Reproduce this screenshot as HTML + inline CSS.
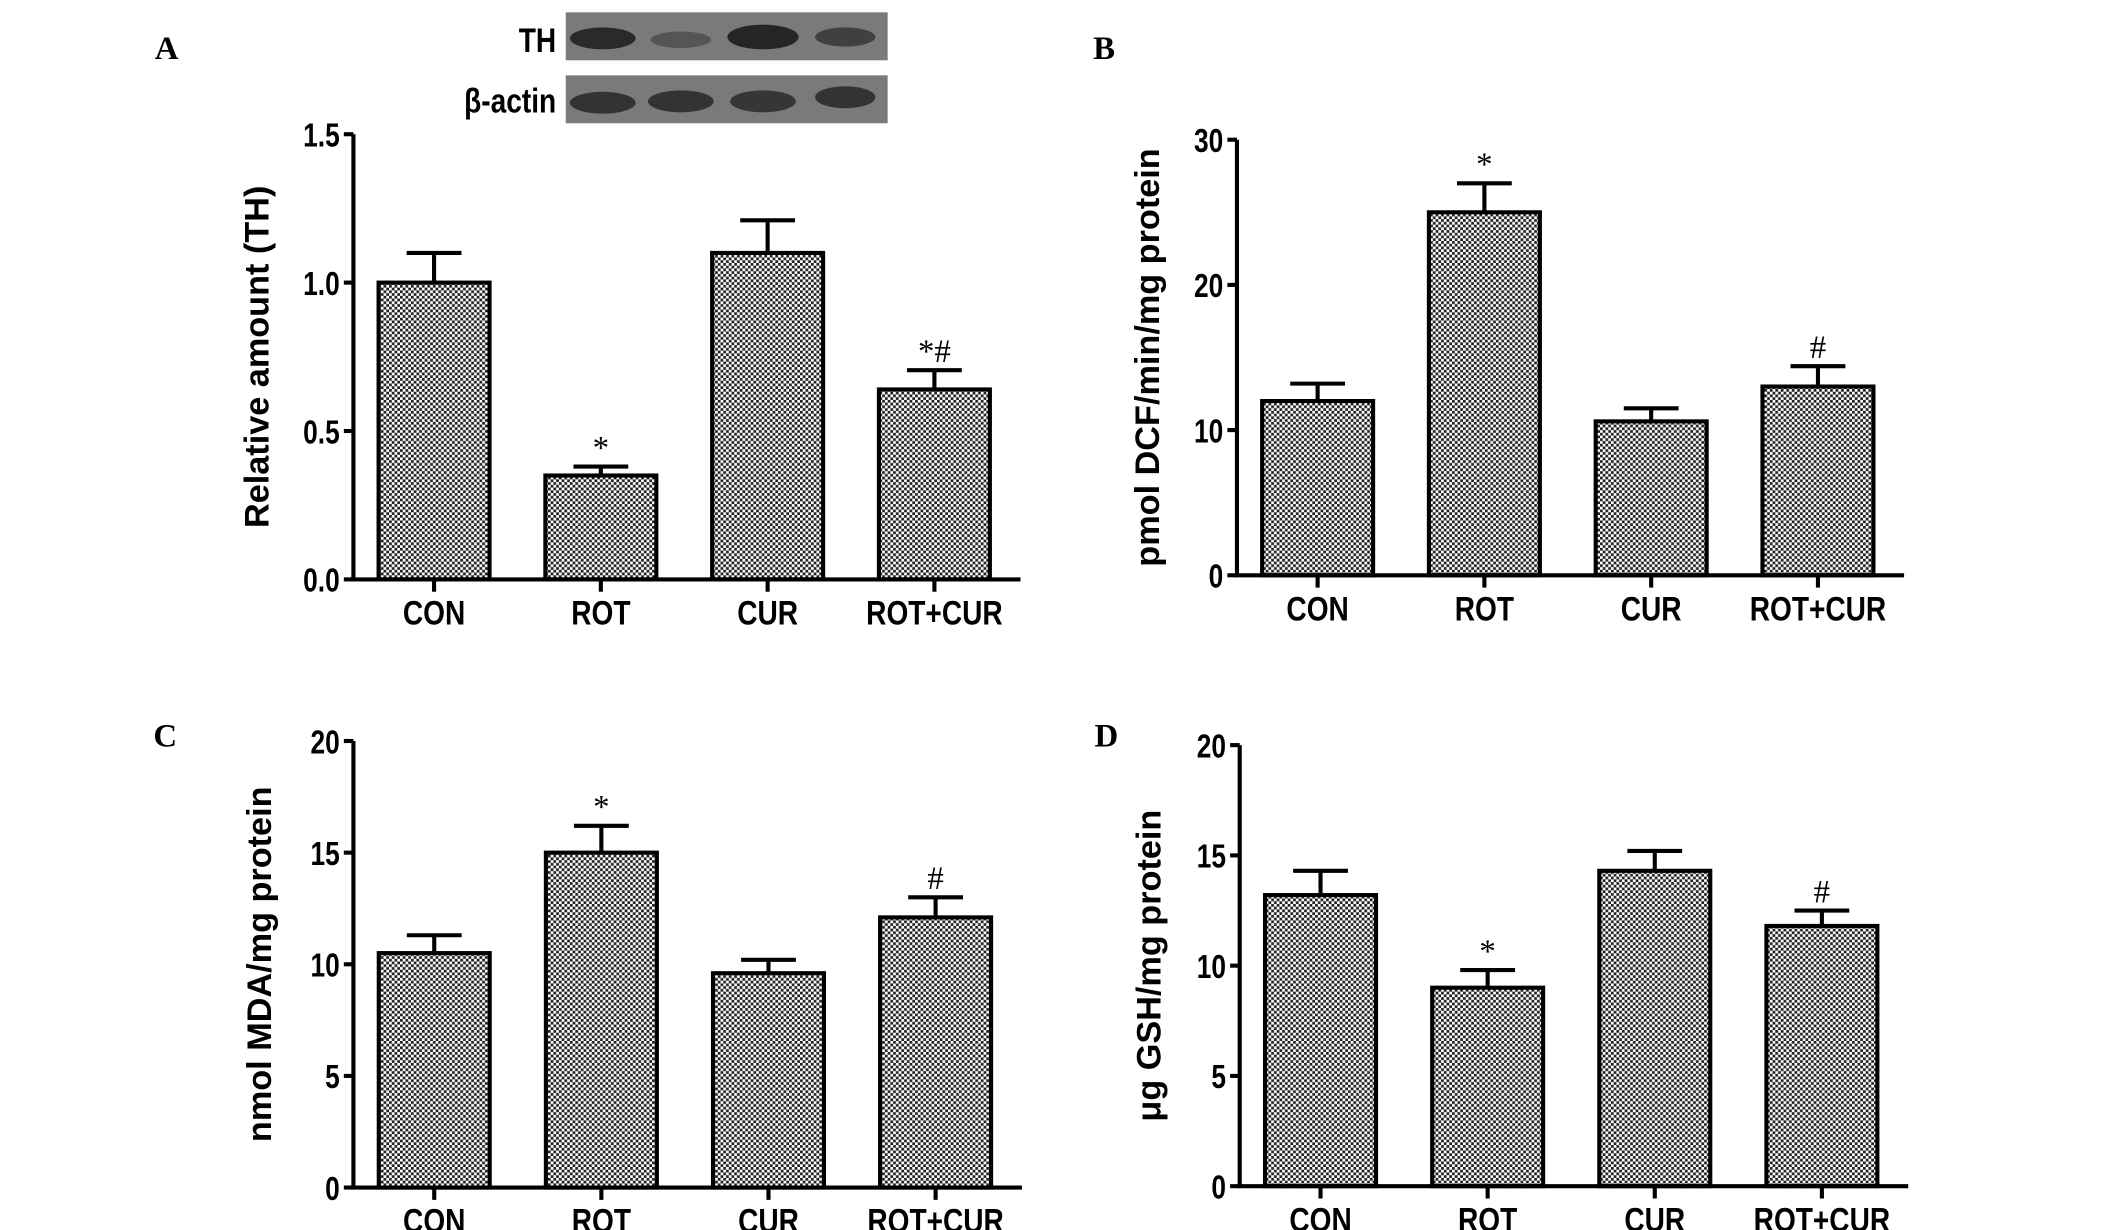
<!DOCTYPE html>
<html><head><meta charset="utf-8"><style>
html,body{margin:0;padding:0;background:#fff;overflow:hidden;}
svg{display:block;}
.tk{font-family:"Liberation Sans",sans-serif;font-weight:bold;font-size:24px;}
.cat{font-family:"Liberation Sans",sans-serif;font-weight:bold;font-size:25px;}
.yt{font-family:"Liberation Sans",sans-serif;font-weight:bold;font-size:25px;}
.pl{font-family:"Liberation Serif",serif;font-weight:bold;font-size:24px;}
.sig{font-family:"Liberation Serif",serif;font-size:24px;}
</style></head><body>
<svg id="fig" width="2126" height="1230" viewBox="0 0 1552 898" preserveAspectRatio="none" xmlns="http://www.w3.org/2000/svg">
<defs>
<pattern id="chk" width="4" height="4" patternUnits="userSpaceOnUse">
<rect width="4" height="4" fill="#fff"/>
<rect width="2" height="2" fill="#222"/>
<rect x="2" y="2" width="2" height="2" fill="#222"/>
</pattern>
</defs>
<g>
<text transform="translate(406,38) scale(0.82,1)" text-anchor="end" class="cat">TH</text>
<rect x="413" y="9" width="235" height="35" fill="#7a7a7a"/>
<ellipse cx="440" cy="28" rx="24" ry="8" fill="#2a2a2a"/>
<ellipse cx="497" cy="29" rx="22" ry="6" fill="#555"/>
<ellipse cx="557" cy="27" rx="26" ry="9" fill="#252525"/>
<ellipse cx="617" cy="27" rx="22" ry="7" fill="#404040"/>
<text transform="translate(406,82) scale(0.82,1)" text-anchor="end" class="cat">β-actin</text>
<rect x="413" y="55" width="235" height="35" fill="#7a7a7a"/>
<ellipse cx="440" cy="75" rx="24" ry="8" fill="#333"/>
<ellipse cx="497" cy="74" rx="24" ry="8" fill="#333"/>
<ellipse cx="557" cy="74" rx="24" ry="8" fill="#363636"/>
<ellipse cx="617" cy="71" rx="22" ry="8" fill="#333"/>
</g>
</svg>
<script>
const categories = ["CON","ROT","CUR","ROT+CUR"];
const valuesA = [1.0, 0.35, 1.1, 0.64];
const errorsA = [0.10, 0.03, 0.11, 0.065];
const marksA = ["", "*", "", "*#"];
const ticksA = [0, 0.5, 1.0, 1.5];
const tickLabelsA = ["0.0","0.5","1.0","1.5"];
const valuesB = [12.0, 25.0, 10.6, 13.0];
const errorsB = [1.2, 2.0, 0.9, 1.4];
const marksB = ["", "*", "", "#"];
const ticksB = [0, 10, 20, 30];
const tickLabelsB = ["0","10","20","30"];
const valuesC = [10.5, 15.0, 9.6, 12.1];
const errorsC = [0.8, 1.2, 0.6, 0.9];
const marksC = ["", "*", "", "#"];
const ticksC = [0, 5, 10, 15, 20];
const tickLabelsC = ["0","5","10","15","20"];
const valuesD = [13.2, 9.0, 14.3, 11.8];
const errorsD = [1.1, 0.8, 0.9, 0.7];
const marksD = ["", "*", "", "#"];
const ticksD = [0, 5, 10, 15, 20];
const tickLabelsD = ["0","5","10","15","20"];

const NS = "http://www.w3.org/2000/svg";
const svg = document.getElementById("fig");
function mk(tag, attrs, parent, txt){
  const e = document.createElementNS(NS, tag);
  for (const k in attrs) e.setAttribute(k, attrs[k]);
  if (txt !== undefined) e.textContent = txt;
  parent.appendChild(e);
  return e;
}
function panel(p){
  const g = mk("g", {}, svg);
  
  
  const ymax = p.ticks[p.ticks.length-1];
  const y = v => p.y0 - (v / ymax) * (p.y0 - p.y1);
  const step = (p.xEnd - p.x0) / 4;
  const bw = 81;
  const xc = i => p.x0 + step * (i + 0.5) - 2;
  const lab = mk("text", {x:p.lx, y:p.ly, class:"pl"}, g, p.id);
  
  
  p.vals.forEach((v, i) => {
    const cx = xc(i);
    const ey = y(v + p.errs[i]);
    const eb = mk("path", {d:`M${cx} ${y(v)}V${ey}M${cx-20} ${ey}H${cx+20}`, stroke:"#000", "stroke-width":3, fill:"none"}, g);
    
    
    const r = mk("rect", {x:cx-bw/2, y:y(v), width:bw, height:p.y0-y(v), fill:"url(#chk)", stroke:"#000", "stroke-width":3}, g);
    
    
    if (p.marks[i]) {
      const s = mk("text", {x:cx, y:ey-6, "text-anchor":"middle", class:"sig"}, g, p.marks[i]);
      
      
    }
    mk("line", {x1:cx, x2:cx, y1:p.y0, y2:p.y0+9, stroke:"#000", "stroke-width":3}, g);
    const c = mk("text", {transform:`translate(${cx},${p.y0+33}) scale(0.82,1)`, "text-anchor":"middle", class:"cat"}, g, categories[i]);
    
    
  });
  const ax = mk("path", {d:`M${p.x0} ${p.y1}V${p.y0}H${p.xEnd}`, stroke:"#000", "stroke-width":3, fill:"none"}, g);
  
  
  p.ticks.forEach((t, i) => {
    mk("line", {x1:p.x0-7, x2:p.x0, y1:y(t), y2:y(t), stroke:"#000", "stroke-width":3}, g);
    const tl = mk("text", {transform:`translate(${p.x0-10},${y(t)+9}) scale(0.8,1)`, "text-anchor":"end", class:"tk"}, g, p.tickLabels[i]);
    
    
  });
  const yc = (p.y0 + p.y1) / 2;
  const yt = mk("text", {x:p.tx, y:yc, "text-anchor":"middle", class:"yt", transform:`rotate(-90 ${p.tx} ${yc})`}, g, p.title);
  
  
}
panel({id:"A", vals:valuesA, errs:errorsA, marks:marksA, ticks:ticksA, tickLabels:tickLabelsA, x0:258, xEnd:745, y0:423, y1:98, lx:113, ly:43, tx:196, title:"Relative amount (TH)"});
panel({id:"B", vals:valuesB, errs:errorsB, marks:marksB, ticks:ticksB, tickLabels:tickLabelsB, x0:903, xEnd:1390, y0:420, y1:102, lx:798, ly:43, tx:846, title:"pmol DCF/min/mg protein"});
panel({id:"C", vals:valuesC, errs:errorsC, marks:marksC, ticks:ticksC, tickLabels:tickLabelsC, x0:258, xEnd:746, y0:867, y1:541, lx:112, ly:545, tx:198, title:"nmol MDA/mg protein"});
panel({id:"D", vals:valuesD, errs:errorsD, marks:marksD, ticks:ticksD, tickLabels:tickLabelsD, x0:905, xEnd:1393, y0:866, y1:544, lx:799, ly:545, tx:847, title:"μg GSH/mg protein"});
</script>
</body></html>
